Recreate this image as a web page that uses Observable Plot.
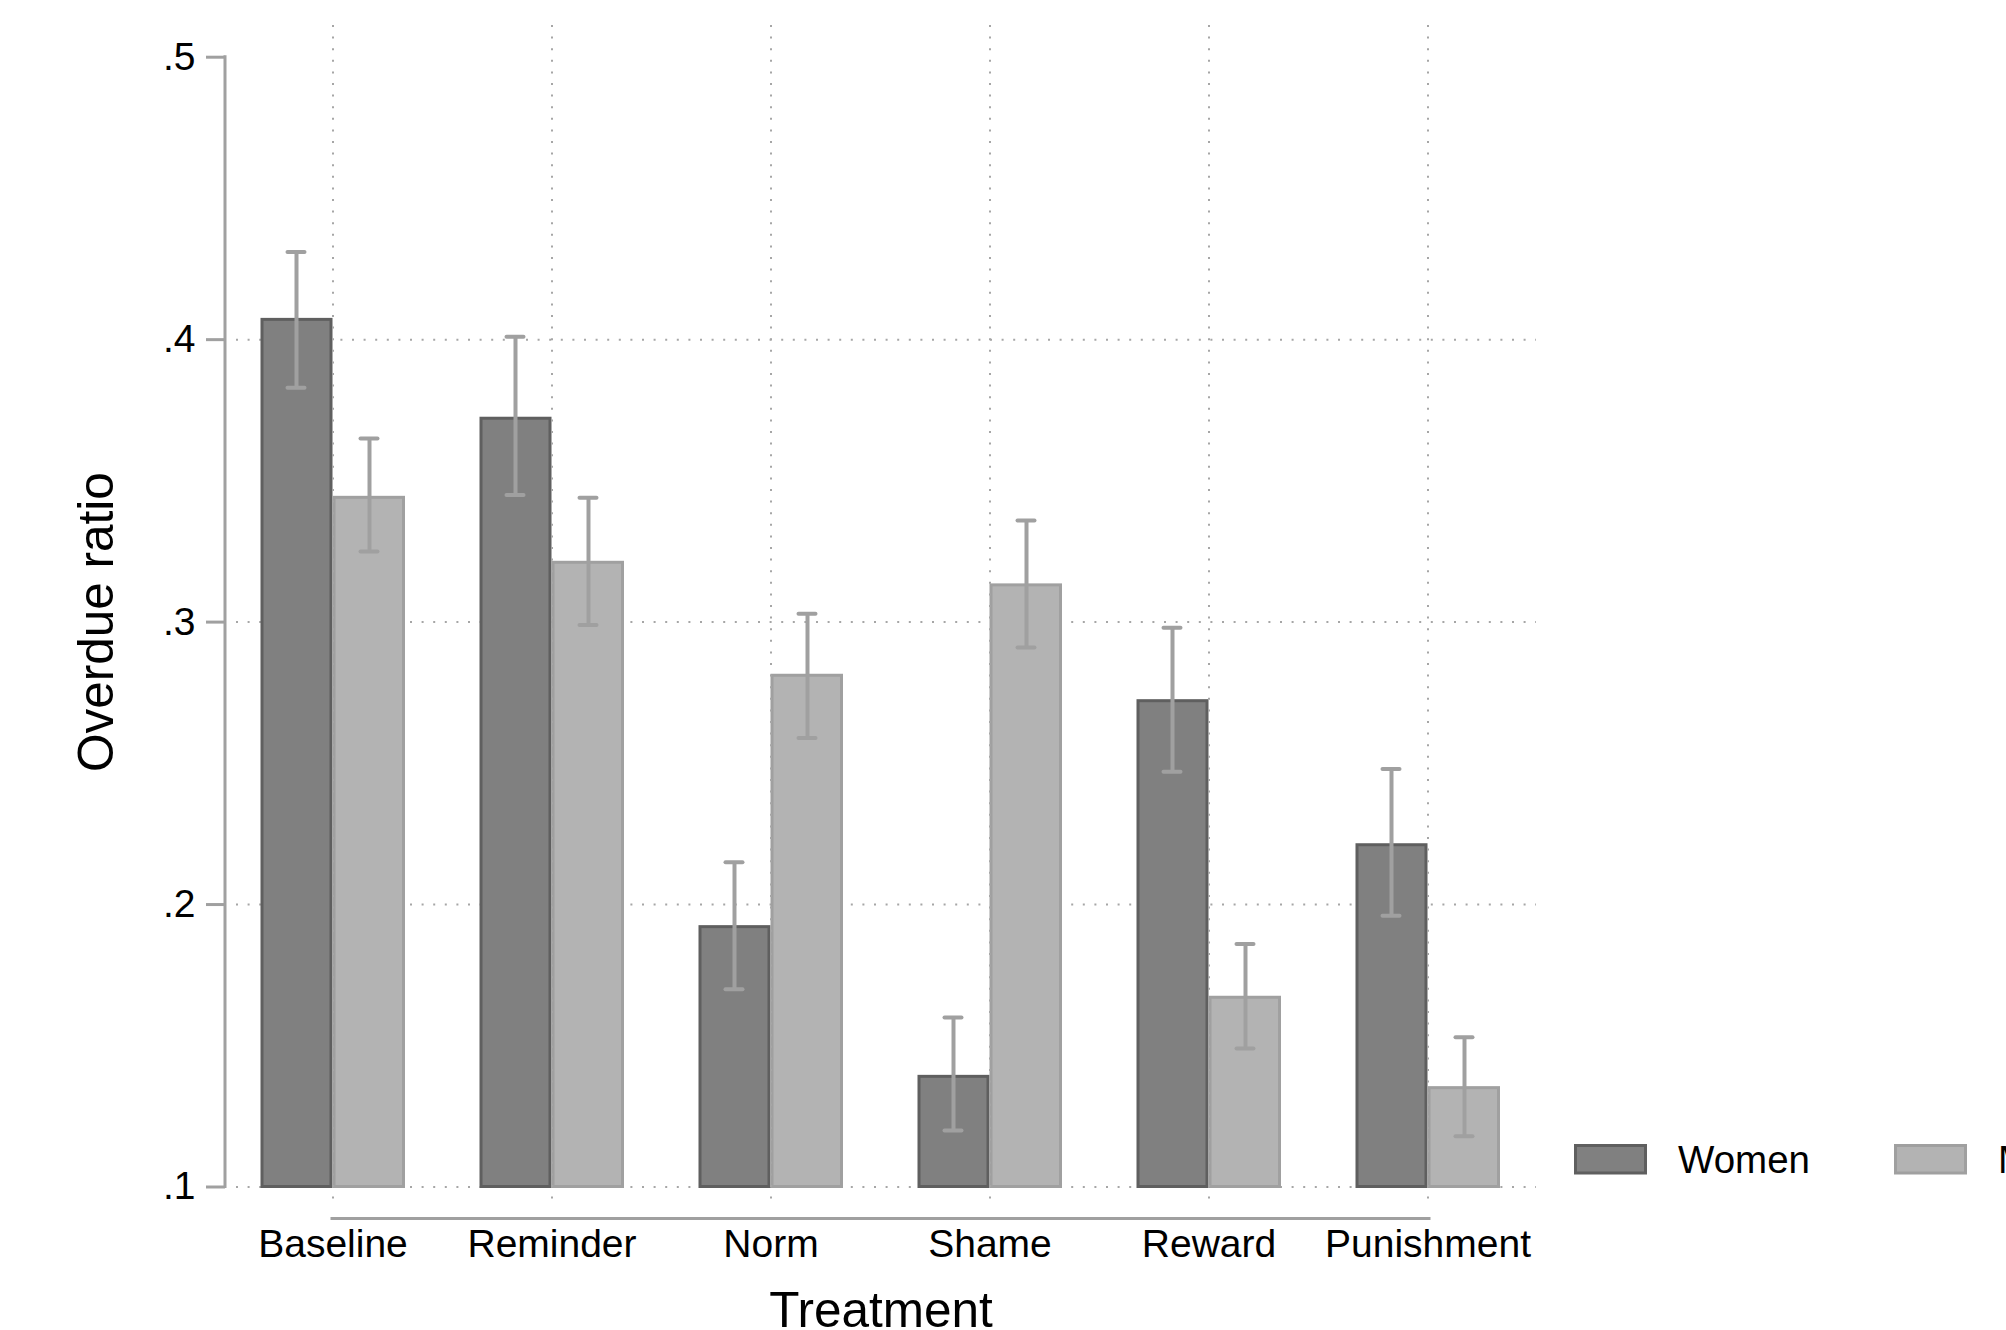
<!DOCTYPE html>
<html>
<head>
<meta charset="utf-8">
<script src="https://cdn.jsdelivr.net/npm/d3@7"></script>
<script src="https://cdn.jsdelivr.net/npm/@observablehq/plot@0.6"></script>
<style>
  html, body { margin: 0; padding: 0; background: #fff; overflow: hidden; width: 2006px; height: 1330px; }
  #chart svg { display: block; }
</style>
</head>
<body>
<div id="chart"></div>
<script>
// ---- data ----
const treatments = ["Baseline", "Reminder", "Norm", "Shame", "Reward", "Punishment"];
const sexes = ["Women", "Men"];
const women   = [0.407, 0.372, 0.192, 0.139, 0.272, 0.221];
const womenLo = [0.383, 0.345, 0.170, 0.120, 0.247, 0.196];
const womenHi = [0.431, 0.401, 0.215, 0.160, 0.298, 0.248];
const men     = [0.344, 0.321, 0.281, 0.313, 0.167, 0.135];
const menLo   = [0.325, 0.299, 0.259, 0.291, 0.149, 0.118];
const menHi   = [0.365, 0.344, 0.303, 0.336, 0.186, 0.153];
const yTicks = [0.1, 0.2, 0.3, 0.4, 0.5];
const yTickLabels = [".1", ".2", ".3", ".4", ".5"];
const yGrid = [0.1, 0.2, 0.3, 0.4];
const yBase = 0.1;

// ---- layout / style ----
const W = 2006, H = 1330;
const marginLeft = 225, marginRight = 470, marginTop = 56.7, marginBottom = 143.5;
const step = 220, bandwidth = 146, outerGap = 32.5;
const half = bandwidth / 2;
const errOffset = 36.5, capHalf = 9;
const font = "'Liberation Sans', Arial, Helvetica, sans-serif";
const fills = ["#808080", "#b3b3b3"];
const strokes = ["#5f5f5f", "#a0a0a0"];
const lineGray = "#a0a0a0";
const dotGray = "#a6a6a6";

const rowsW = treatments.map((t, i) => ({treatment: t, sex: sexes[0], value: women[i], lo: womenLo[i], hi: womenHi[i]}));
const rowsM = treatments.map((t, i) => ({treatment: t, sex: sexes[1], value: men[i], lo: menLo[i], hi: menHi[i]}));

function yAxisLine(index, scales, values, dimensions) {
  const g = d3.create("svg:g");
  const x = dimensions.marginLeft;
  g.append("line")
    .attr("x1", x).attr("x2", x)
    .attr("y1", scales.y(yTicks[yTicks.length - 1]) - 1.5)
    .attr("y2", scales.y(yTicks[0]) + 1.5)
    .attr("stroke", lineGray).attr("stroke-width", 3);
  return g.node();
}

function legend(index, scales, values, dimensions) {
  const g = d3.create("svg:g").attr("font-family", font).attr("text-anchor", "start");
  const pos = [{x: 1575.5, tx: 1678}, {x: 1895.5, tx: 1998}];
  sexes.forEach((s, i) => {
    g.append("rect")
      .attr("x", pos[i].x).attr("y", 1145.5).attr("width", 70).attr("height", 27.5)
      .attr("fill", fills[i]).attr("stroke", strokes[i]).attr("stroke-width", 3);
    g.append("text")
      .attr("x", pos[i].tx).attr("y", 1173.3).attr("text-anchor", "start")
      .attr("font-size", 38.5).attr("fill", "black").text(s);
  });
  return g.node();
}

const chart = Plot.plot({
  width: W,
  height: H,
  marginLeft, marginRight, marginTop, marginBottom,
  style: {fontFamily: font, background: "white", color: "black", overflow: "visible"},
  x: {type: "band", domain: treatments, paddingInner: (step - bandwidth) / step, paddingOuter: outerGap / step, axis: null},
  y: {domain: [yTicks[0], yTicks[yTicks.length - 1]]},
  marks: [
    // horizontal dotted grid
    Plot.ruleY(yGrid, {y: d => d, stroke: dotGray, strokeWidth: 2, strokeDasharray: "2,9.6", insetLeft: 11}),
    // bars
    Plot.barY(rowsW, {x: "treatment", y1: () => yBase, y2: "value", fill: fills[0], stroke: strokes[0], strokeWidth: 3, insetLeft: 2, insetRight: half + 1}),
    Plot.barY(rowsM, {x: "treatment", y1: () => yBase, y2: "value", fill: fills[1], stroke: strokes[1], strokeWidth: 3, insetLeft: half + 1, insetRight: 1.5}),
    // vertical dotted grid (at category centers)
    Plot.ruleX(treatments, {x: d => d, stroke: dotGray, strokeWidth: 2, strokeDasharray: "2,9.6", insetTop: -31.7, insetBottom: -20.5}),
    // error bars
    Plot.ruleX(rowsW, {x: "treatment", y1: "lo", y2: "hi", dx: -errOffset, stroke: lineGray, strokeWidth: 4}),
    Plot.ruleX(rowsM, {x: "treatment", y1: "lo", y2: "hi", dx: errOffset, stroke: lineGray, strokeWidth: 4}),
    Plot.tickY(rowsW, {x: "treatment", y: "hi", stroke: lineGray, strokeWidth: 4, strokeLinecap: "round", insetLeft: half - errOffset - capHalf, insetRight: half + errOffset - capHalf}),
    Plot.tickY(rowsW, {x: "treatment", y: "lo", stroke: lineGray, strokeWidth: 4, strokeLinecap: "round", insetLeft: half - errOffset - capHalf, insetRight: half + errOffset - capHalf}),
    Plot.tickY(rowsM, {x: "treatment", y: "hi", stroke: lineGray, strokeWidth: 4, strokeLinecap: "round", insetLeft: half + errOffset - capHalf, insetRight: half - errOffset - capHalf}),
    Plot.tickY(rowsM, {x: "treatment", y: "lo", stroke: lineGray, strokeWidth: 4, strokeLinecap: "round", insetLeft: half + errOffset - capHalf, insetRight: half - errOffset - capHalf}),
    // y axis
    Plot.axisY(yTicks, {anchor: "left", tickSize: 19, tickPadding: 11, strokeWidth: 3, stroke: lineGray, fill: "black", fontSize: 39,
      tickFormat: d => yTickLabels[yTicks.indexOf(d)], label: null}),
    yAxisLine,
    // x axis line from first to last category center
    Plot.ruleY([yBase], {y: d => d, dy: 31.5, stroke: lineGray, strokeWidth: 3, insetLeft: outerGap + half, insetRight: outerGap + half}),
    // category labels
    Plot.text(treatments, {x: d => d, frameAnchor: "bottom", lineAnchor: "bottom", dy: 69.5, fontSize: 39, fill: "black"}),
    // axis titles
    Plot.text(["Treatment"], {frameAnchor: "bottom", textAnchor: "middle", lineAnchor: "bottom", dy: 140.2, fontSize: 49.5, fill: "black"}),
    Plot.text(["Overdue ratio"], {frameAnchor: "left", textAnchor: "middle", lineAnchor: "bottom", rotate: -90, dx: -113, fontSize: 49.5, fill: "black"}),
    legend
  ]
});

document.getElementById("chart").appendChild(chart);
</script>
</body>
</html>
